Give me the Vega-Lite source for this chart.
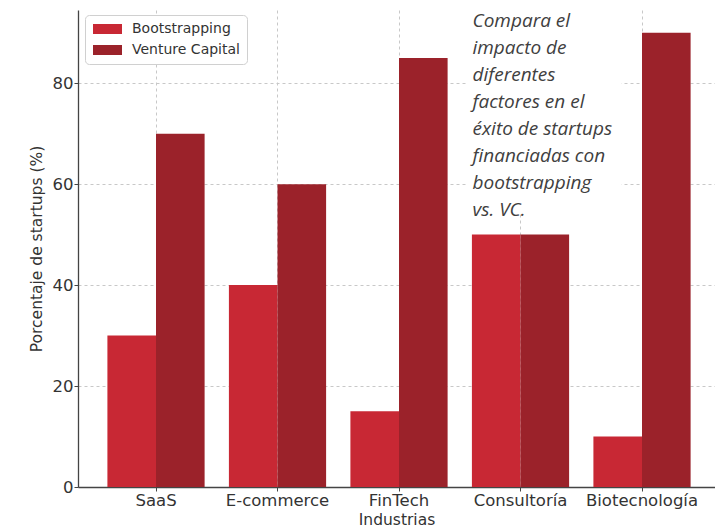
{
  "$schema": "https://vega.github.io/schema/vega-lite/v6.json",
  "autosize": "none",
  "padding": {"left": 78, "top": 10, "right": 0, "bottom": 44},
  "width": 637,
  "height": 477,
  "background": "white",
  "config": {
    "view": {"stroke": null},
    "font": "DejaVu Sans",
    "axis": {
      "labelFont": "DejaVu Sans",
      "titleFont": "DejaVu Sans",
      "labelFontSize": 16.5,
      "titleFontSize": 15.5,
      "titleFontWeight": "normal",
      "labelColor": "#333333",
      "titleColor": "#333333",
      "domainColor": "#444444",
      "domainWidth": 1.3,
      "tickColor": "#444444",
      "tickSize": 4,
      "gridColor": "#c8c8c8",
      "gridDash": [3, 3],
      "gridWidth": 1
    }
  },
  "datasets": {
    "bars": [
      {"industria": "SaaS", "tipo": "Bootstrapping", "porcentaje": 30},
      {"industria": "SaaS", "tipo": "Venture Capital", "porcentaje": 70},
      {"industria": "E-commerce", "tipo": "Bootstrapping", "porcentaje": 40},
      {"industria": "E-commerce", "tipo": "Venture Capital", "porcentaje": 60},
      {"industria": "FinTech", "tipo": "Bootstrapping", "porcentaje": 15},
      {"industria": "FinTech", "tipo": "Venture Capital", "porcentaje": 85},
      {"industria": "Consultoría", "tipo": "Bootstrapping", "porcentaje": 50},
      {"industria": "Consultoría", "tipo": "Venture Capital", "porcentaje": 50},
      {"industria": "Biotecnología", "tipo": "Bootstrapping", "porcentaje": 10},
      {"industria": "Biotecnología", "tipo": "Venture Capital", "porcentaje": 90}
    ],
    "note": [
      {"texto": "Compara el\nimpacto de\ndiferentes\nfactores en el\néxito de startups\nfinanciadas con\nbootstrapping\nvs. VC."}
    ]
  },
  "layer": [
    {
      "data": {"name": "bars"},
      "mark": {"type": "bar"},
      "encoding": {
        "x": {
          "field": "industria",
          "type": "nominal",
          "sort": ["SaaS", "E-commerce", "FinTech", "Consultoría", "Biotecnología"],
          "scale": {"paddingInner": 0, "paddingOuter": 0.1214, "align": 0.585},
          "axis": {
            "title": "Industrias",
            "labelAngle": 0,
            "labelPadding": 1,
            "titlePadding": 4,
            "grid": true,
            "bandPosition": 0.5
          }
        },
        "xOffset": {
          "field": "tipo",
          "type": "nominal",
          "scale": {"paddingInner": 0, "paddingOuter": 0.25}
        },
        "y": {
          "field": "porcentaje",
          "type": "quantitative",
          "scale": {"domain": [0, 94.5], "nice": false},
          "axis": {
            "title": "Porcentaje de startups (%)",
            "values": [0, 20, 40, 60, 80],
            "labelPadding": 1,
            "titlePadding": 8,
            "grid": true
          }
        },
        "color": {
          "field": "tipo",
          "type": "nominal",
          "scale": {"domain": ["Bootstrapping", "Venture Capital"], "range": ["#c82834", "#9b222a"]},
          "legend": {
            "title": null,
            "orient": "none",
            "legendX": 7,
            "legendY": 5,
            "padding": 7,
            "fillColor": "white",
            "strokeColor": "#d0d0d0",
            "cornerRadius": 4,
            "symbolType": "M-1.2,-1H4.6V1H-1.2Z",
            "symbolSize": 100,
            "symbolStrokeWidth": 0,
            "symbolOpacity": 1,
            "labelOffset": 26,
            "labelFont": "DejaVu Sans",
            "labelFontSize": 14,
            "labelColor": "#333333",
            "rowPadding": 7
          }
        }
      }
    },
    {
      "data": {"name": "note"},
      "mark": {"type": "bar", "color": "white", "width": 154, "xOffset": 24},
      "encoding": {
        "x": {"datum": "Consultoría"},
        "y": {"datum": 54},
        "y2": {"datum": 94.5}
      }
    },
    {
      "data": {"name": "note"},
      "mark": {
        "type": "text",
        "align": "left",
        "baseline": "top",
        "dx": -48,
        "dy": 2,
        "font": "Open Sans",
        "fontStyle": "italic",
        "fontSize": 19,
        "lineHeight": 27,
        "lineBreak": "\n",
        "color": "#404040"
      },
      "encoding": {
        "x": {"datum": "Consultoría"},
        "y": {"datum": 94.5},
        "text": {"field": "texto"}
      }
    }
  ]
}
